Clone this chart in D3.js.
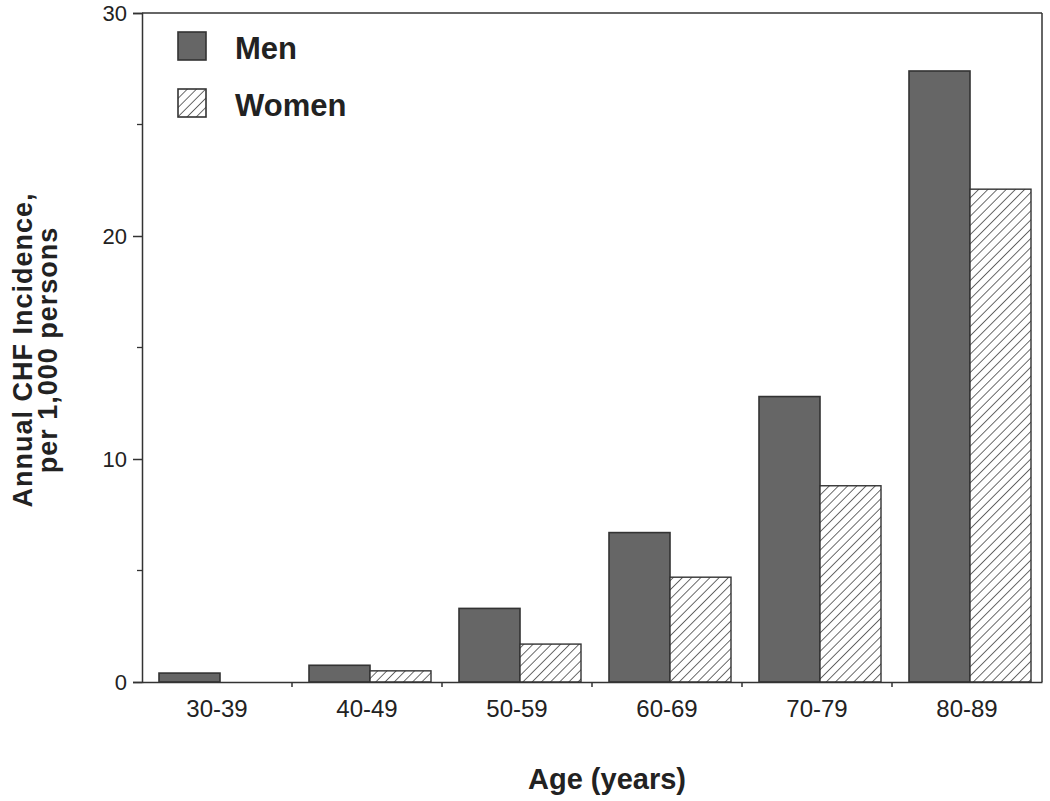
<!DOCTYPE html>
<html><head><meta charset="utf-8">
<script src="https://cdn.jsdelivr.net/npm/d3@7"></script>
<style>body{margin:0;background:#fff}svg{display:block}text{font-family:"Liberation Sans",Arial,sans-serif;fill:#222}</style>
</head><body><svg id="c" width="1050" height="801"></svg>
<script>
const categories = ["30-39","40-49","50-59","60-69","70-79","80-89"];
const men   = [0.4, 0.75, 3.3, 6.7, 12.8, 27.4];
const women = [0.0, 0.5, 1.7, 4.7, 8.8, 22.1];
const seriesNames = ["Men","Women"];
const yMajor = [0,10,20,30];
const yMinor = [5,15,25];

const svg = d3.select("#c");
const L=142, R=1042, T=13, B=682;
const x = d3.scaleBand().domain(categories).range([L,R]).paddingInner(0).paddingOuter(0);
const y = d3.scaleLinear().domain([0,30]).range([B,T]);

const defs = svg.append("defs");
const hs = 6.5;
const pat = defs.append("pattern").attr("id","hatch").attr("patternUnits","userSpaceOnUse")
  .attr("width",hs).attr("height",hs).attr("patternTransform","rotate(45)");
pat.append("rect").attr("width",hs).attr("height",hs).attr("fill","#fff");
pat.append("line").attr("x1",0).attr("y1",0).attr("x2",0).attr("y2",hs).attr("stroke","#3a3a3a").attr("stroke-width",1.5);

// frame
svg.append("line").attr("x1",L).attr("x2",R).attr("y1",T).attr("y2",T).attr("stroke","#333").attr("stroke-width",1.5);
svg.append("line").attr("x1",R).attr("x2",R).attr("y1",T).attr("y2",B).attr("stroke","#333").attr("stroke-width",1.5);

const bw = 61, off = 17;
const g = svg.append("g");
categories.forEach((c,i)=>{
  const x0 = x(c)+off;
  if (men[i]>0) g.append("rect").attr("x",x0).attr("y",y(men[i])).attr("width",bw).attr("height",B-y(men[i]))
     .attr("fill","#666").attr("stroke","#333").attr("stroke-width",1.6);
  if (women[i]>0) g.append("rect").attr("x",x0+bw).attr("y",y(women[i])).attr("width",bw).attr("height",B-y(women[i]))
     .attr("fill","url(#hatch)").attr("stroke","#333").attr("stroke-width",1.4);
});

// y axis
const ya = svg.append("g").attr("transform",`translate(${L},0)`)
  .call(d3.axisLeft(y).tickValues(yMajor).tickSize(9).tickPadding(6).tickFormat(d3.format("d")));
ya.select(".domain").attr("stroke","#333").attr("stroke-width",1.5);
ya.selectAll(".tick line").attr("stroke","#333").attr("stroke-width",1.5);
ya.selectAll(".tick text").style("font-size","22px").attr("fill","#222");
svg.append("g").selectAll("line").data(yMinor).join("line")
  .attr("x1",L-5).attr("x2",L).attr("y1",d=>y(d)).attr("y2",d=>y(d)).attr("stroke","#333").attr("stroke-width",1.3);

// x axis
const xa = svg.append("g").attr("transform",`translate(0,${B})`)
  .call(d3.axisBottom(x).tickSize(0).tickPadding(18));
xa.select(".domain").attr("stroke","#333").attr("stroke-width",1.5);
xa.selectAll(".tick text").style("font-size","24px").attr("fill","#222");
svg.append("g").selectAll("line").data(categories.slice(1)).join("line")
  .attr("x1",d=>x(d)).attr("x2",d=>x(d)).attr("y1",B).attr("y2",B+5).attr("stroke","#333").attr("stroke-width",1.5);

// titles
svg.append("text").attr("x",(L+R)/2 + 15).attr("y",789).attr("text-anchor","middle")
  .style("font-size","29px").style("font-weight","bold").text("Age (years)");
const yt = svg.append("text").attr("transform","translate(0,350) rotate(-90)").attr("text-anchor","middle")
  .style("font-size","27px").style("font-weight","bold").style("letter-spacing","1px");
yt.append("tspan").attr("x",0).attr("y",32).text("Annual CHF Incidence,");
yt.append("tspan").attr("x",0).attr("y",57).text("per 1,000 persons");

// legend
const lg = svg.append("g");
seriesNames.forEach((s,i)=>{
  const yy = 32 + i*57;
  lg.append("rect").attr("x",178).attr("y",yy).attr("width",28).attr("height",28)
    .attr("fill", i===0 ? "#666" : "url(#hatch)").attr("stroke","#333").attr("stroke-width",1.6);
  lg.append("text").attr("x",235).attr("y",yy+27).style("font-size","31px").style("font-weight","bold").text(s);
});
</script></body></html>
